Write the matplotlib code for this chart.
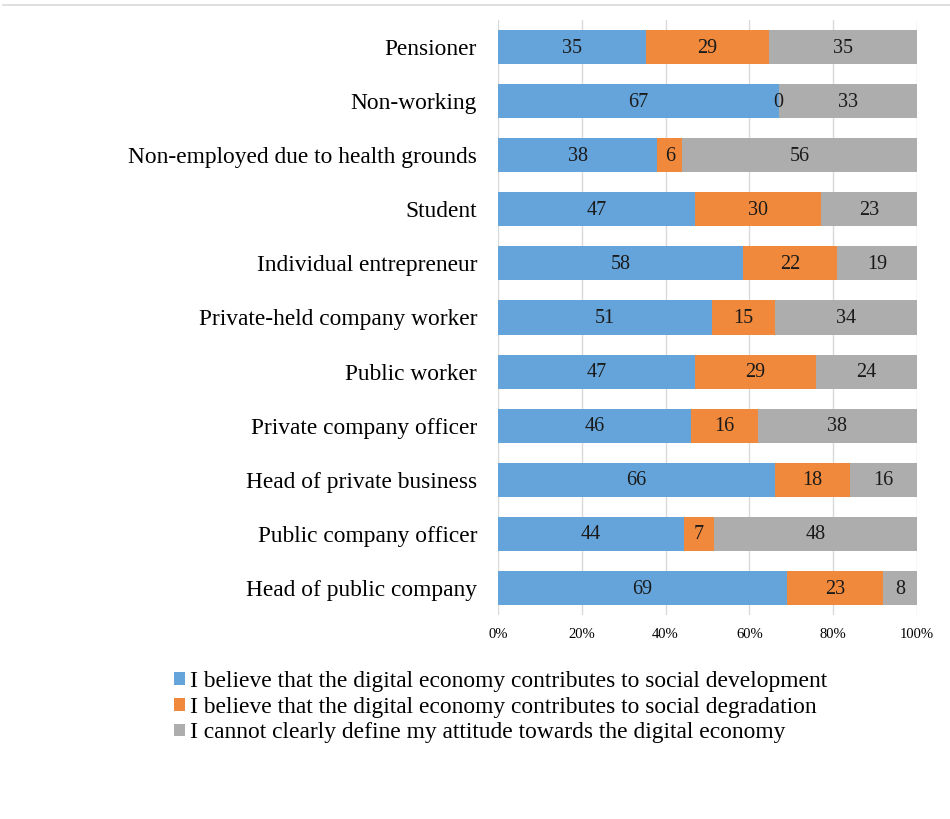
import matplotlib
matplotlib.use("Agg")
import matplotlib.pyplot as plt
from matplotlib.lines import Line2D
import numpy as np

categories = ["Pensioner", "Non-working", "Non-employed due to health grounds", "Student",
              "Individual entrepreneur", "Private-held company worker", "Public worker",
              "Private company officer", "Head of private business", "Public company officer",
              "Head of public company"]
development = [35, 67, 38, 47, 58, 51, 47, 46, 66, 44, 69]
degradation = [29, 0, 6, 30, 22, 15, 29, 16, 18, 7, 23]
undefined = [35, 33, 56, 23, 19, 34, 24, 38, 16, 48, 8]
series_names = ["I believe that the digital economy contributes to social development",
                "I believe that the digital economy contributes to social degradation",
                "I cannot clearly define my attitude towards the digital economy"]
tick_labels = ["0%", "20%", "40%", "60%", "80%", "100%"]
colors = ["#65A4DA", "#F0893B", "#ADADAD"]

plt.rcParams['font.family'] = ['Liberation Serif', 'DejaVu Serif']

fig = plt.figure(figsize=(9.5, 8.19), dpi=100)
ax = fig.add_axes([498/950, 1-615/819, (917-498)/950, (615-20)/819])

data = np.array([development, degradation, undefined], dtype=float)
totals = data.sum(axis=0)
shares = data / totals
y = np.arange(len(categories))
left = np.zeros(len(categories))
for i in range(3):
    bars = ax.barh(y, shares[i], left=left, height=0.63, color=colors[i], label=series_names[i], zorder=2)
    for j, b in enumerate(bars):
        cx = left[j] + shares[i][j] / 2
        ax.text(cx, y[j] + 0.02, f"{int(data[i][j])}", ha='center', va='center', fontsize=14.5, color='#1a1a1a', zorder=3)
    left = left + shares[i]

ax.set_xlim(0, 1)
ax.set_ylim(len(categories) - 0.5, -0.5)
ax.set_yticks(y)
ax.set_yticklabels(categories, fontsize=16.8)
ax.set_xticks(np.linspace(0, 1, 6))
ax.set_xticklabels(tick_labels, fontsize=10.5)
ax.tick_params(axis='both', length=0)
ax.tick_params(axis='x', pad=9)
ax.tick_params(axis='y', pad=15)
for s in ax.spines.values():
    s.set_visible(False)
ax.grid(axis='x', color='#D9D9D9', linewidth=1, zorder=0)
ax.set_axisbelow(True)

fig.add_artist(Line2D([3/950, 1], [1-5/819, 1-5/819], color='#D9D9D9', linewidth=1.2))

leg = fig.legend(loc='upper left', bbox_to_anchor=(174/950, 1-671/819), frameon=False,
                 fontsize=16.9, handlelength=0.45, handleheight=0.45, handletextpad=0.25,
                 labelspacing=0.2, borderaxespad=0, borderpad=0)

fig.savefig("out.png", dpi=100)
